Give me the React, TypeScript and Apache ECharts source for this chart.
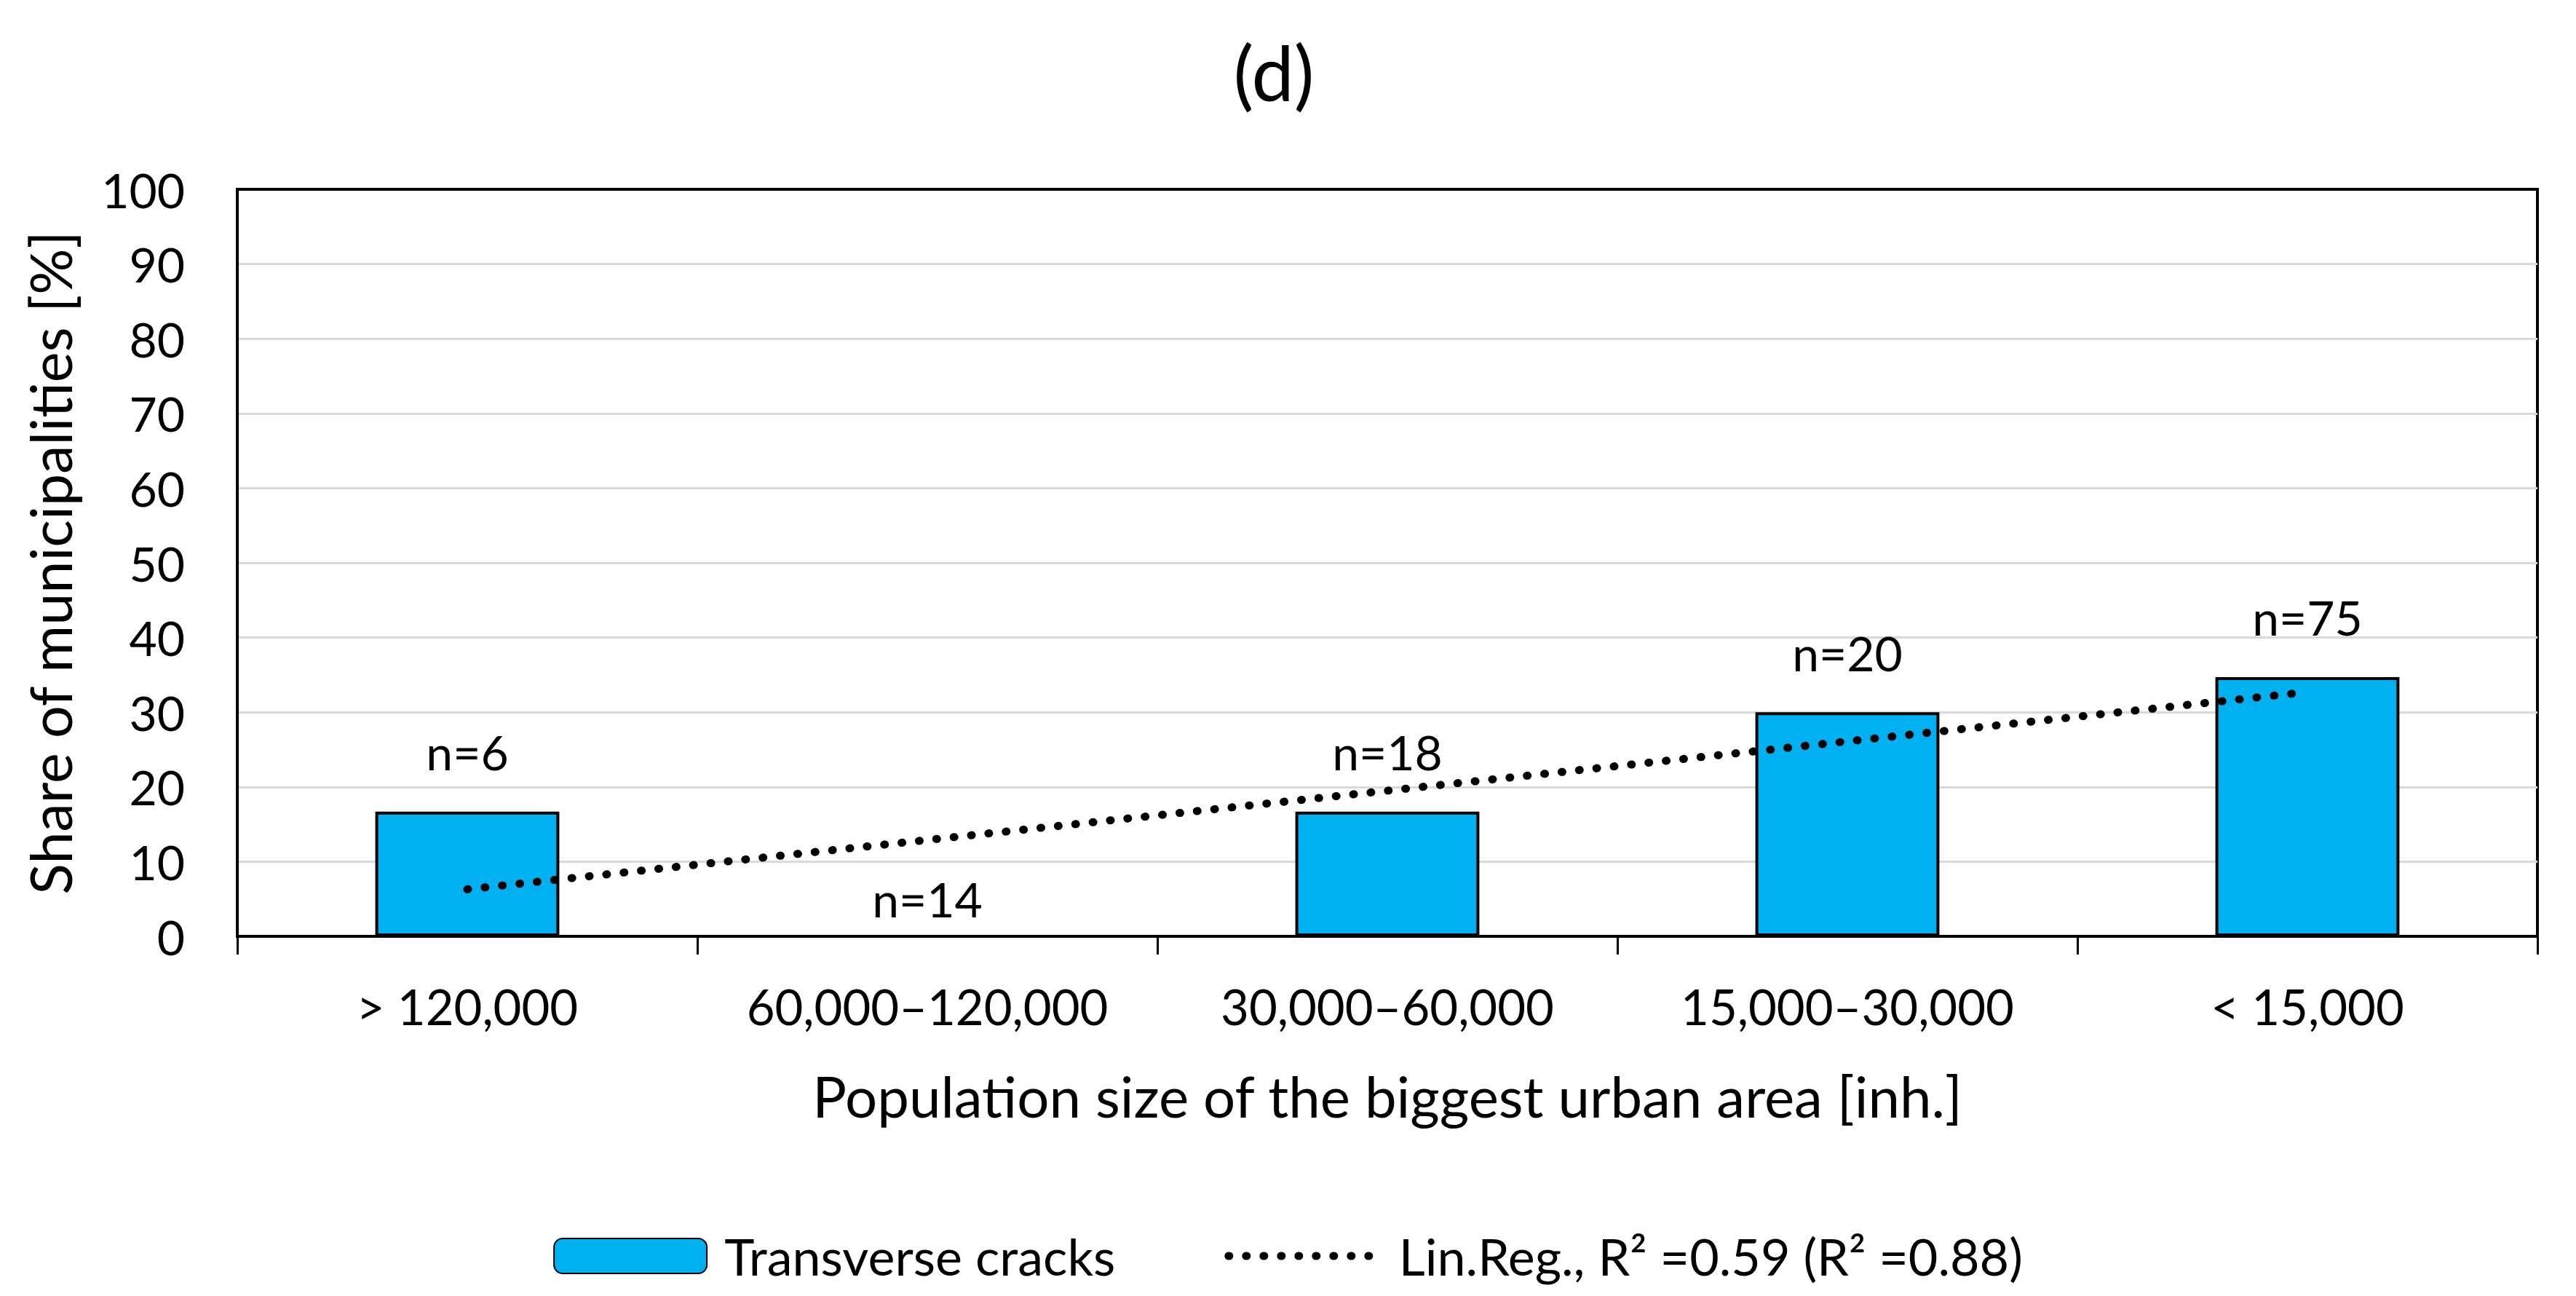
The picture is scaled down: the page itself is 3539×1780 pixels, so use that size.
import React, { useEffect, useRef } from "react";
import * as echarts from "echarts";

const categories = ["> 120,000", "60,000–120,000", "30,000–60,000", "15,000–30,000", "< 15,000"];
const shares = [16.7, 0, 16.7, 30.0, 34.7];
const sampleLabels = ["n=6", "n=14", "n=18", "n=20", "n=75"];
const trendEnds = [6.3, 32.7];
const yMin = 0;
const yMax = 100;
const yStep = 10;

const FONT = "Lato";
const DOTS = { color: "#000", width: 11, type: [1, 23], cap: "round" };

export default function App() {
  const ref = useRef<HTMLDivElement>(null);
  useEffect(() => {
    if (!ref.current) return;
    const chart = echarts.init(ref.current, null, { renderer: "svg" });
    const option: any = {
      animation: false,
      backgroundColor: "#ffffff",
      title: {
        text: "(d)",
        left: 1745,
        top: 41,
        textAlign: "center",
        textStyle: { fontFamily: FONT, fontSize: 104, fontWeight: "normal", color: "#000" },
      },
      grid: {
        left: 326,
        right: 53,
        top: 260,
        bottom: 494,
        show: true,
        borderColor: "#000",
        borderWidth: 4,
        outerBoundsMode: "none",
      },
      legend: {
        left: "center",
        top: 1690,
        padding: 0,
        itemWidth: 210,
        itemHeight: 48,
        itemGap: 150,
        textStyle: { fontFamily: FONT, fontSize: 70, color: "#000", padding: [0, 0, 0, 19] },
        data: [
          { name: "Transverse cracks" },
          {
            name: "Lin.Reg., R² =0.59 (R² =0.88)",
            itemStyle: { opacity: 0 },
            lineStyle: DOTS,
          },
        ],
      },
      xAxis: {
        type: "category",
        data: categories,
        axisLine: { show: true, lineStyle: { color: "#000", width: 4 } },
        axisTick: { show: true, length: 25, lineStyle: { color: "#000", width: 3 } },
        axisLabel: { fontFamily: FONT, fontSize: 67, color: "#000", margin: 62, interval: 0 },
        splitLine: { show: false },
      },
      yAxis: {
        type: "value",
        min: yMin,
        max: yMax,
        interval: yStep,
        axisLine: { show: true, lineStyle: { color: "#000", width: 4 } },
        axisTick: { show: false },
        axisLabel: { fontFamily: FONT, fontSize: 66, color: "#000", margin: 72 },
        splitLine: { show: true, showMinLine: false, showMaxLine: false, lineStyle: { color: "#d9d9d9", width: 3 } },
      },
      graphic: [
        {
          type: "text",
          x: 68,
          y: 773,
          rotation: Math.PI / 2,
          style: {
            text: "Share of municipalities [%]",
            fontFamily: FONT,
            fontSize: 79,
            fill: "#000",
            align: "center",
            verticalAlign: "middle",
          },
        },
        {
          type: "text",
          x: 1906,
          y: 1505,
          style: {
            text: "Population size of the biggest urban area [inh.]",
            fontFamily: FONT,
            fontSize: 78,
            fill: "#000",
            align: "center",
            verticalAlign: "middle",
          },
        },
      ],
      series: [
        {
          name: "Transverse cracks",
          type: "bar",
          barWidth: "40%",
          itemStyle: { color: "#00B0F0", borderColor: "#000", borderWidth: 4 },
          label: {
            show: true,
            position: "top",
            fontFamily: FONT,
            fontSize: 66,
            color: "#000",
          },
          data: shares.map((v, i) => ({
            value: v,
            label: { formatter: sampleLabels[i], distance: v === 0 ? 17 : 49 },
          })),
          z: 2,
        },
        {
          name: "Lin.Reg., R² =0.59 (R² =0.88)",
          type: "line",
          symbol: "none",
          lineStyle: DOTS,
          itemStyle: { color: "#000" },
          data: [
            [categories[0], trendEnds[0]],
            [categories[categories.length - 1], trendEnds[1]],
          ],
          z: 3,
        },
      ],
    };
    chart.setOption(option);
    return () => chart.dispose();
  }, []);
  return (
    <div
      ref={ref}
      style={{ position: "fixed", left: 0, top: 0, width: 3539, height: 1780, background: "#fff" }}
    />
  );
}
